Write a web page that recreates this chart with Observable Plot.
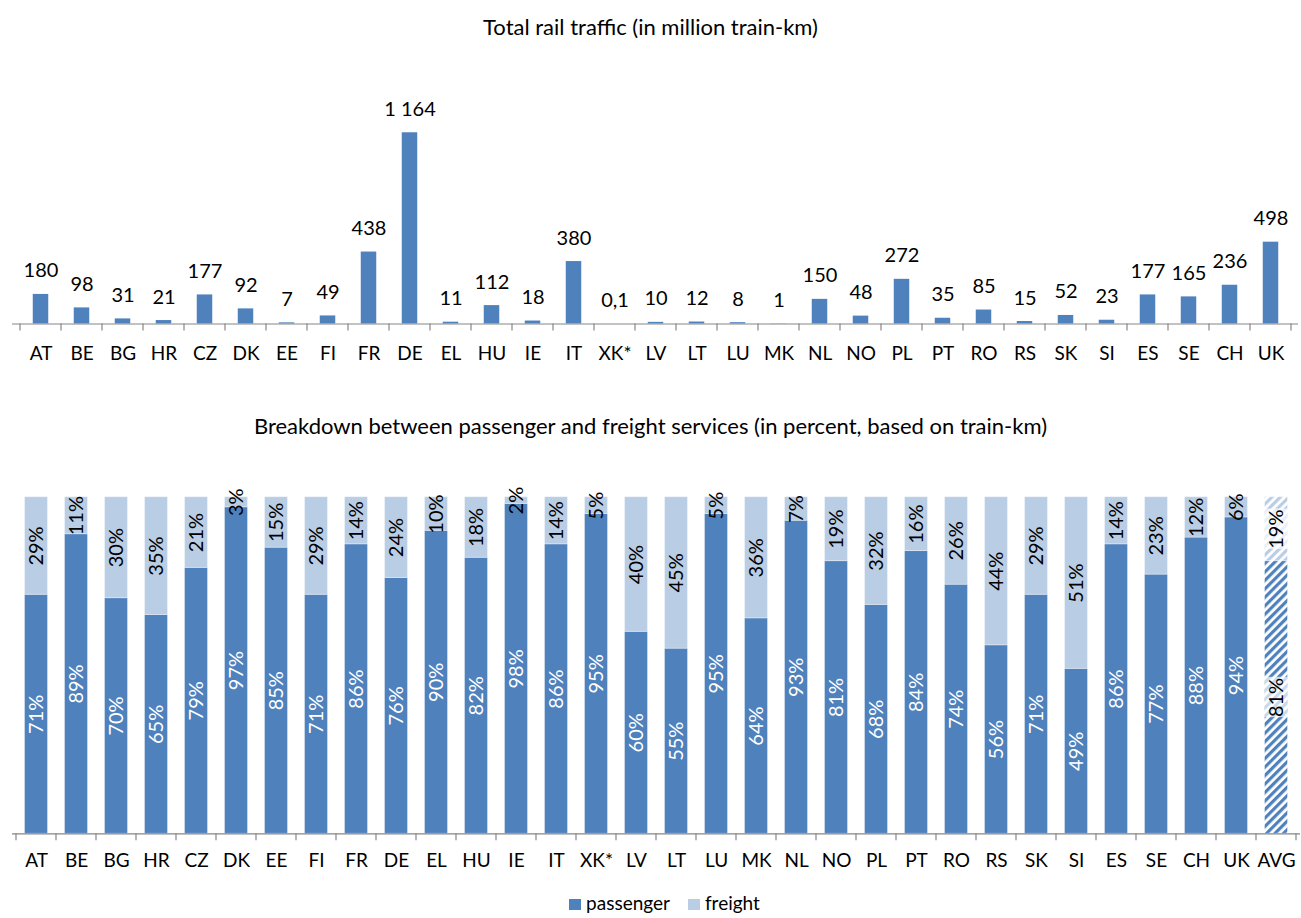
<!DOCTYPE html>
<html>
<head>
<meta charset="utf-8">
<script src="https://cdn.jsdelivr.net/npm/d3@7"></script>
<script src="https://cdn.jsdelivr.net/npm/@observablehq/plot@0.6"></script>
<style>
  body { margin: 0; background: #fff; font-family: Lato, "Open Sans", sans-serif; color: #000; }
  #wrap { position: relative; width: 1301px; height: 918px; overflow: hidden; }
  .title { position: absolute; left: 0; width: 1301px; text-align: center; font-size: 22px; line-height: 26px; }
  #t1 { top: 14px; }
  #t2 { top: 413px; }
  #c1 { position: absolute; top: 40px; left: 0; }
  #c2 { position: absolute; top: 460px; left: 0; }
  #legend { position: absolute; top: 891px; left: 14px; width: 1301px; text-align: center; font-size: 19px; line-height: 23px; white-space: nowrap; }
  #legend span.sw { display: inline-block; width: 12px; height: 11px; margin-right: 5px; vertical-align: 0px; }
  #legend span.it { margin: 0 9px; }
</style>
</head>
<body>
<div id="wrap">
  <div class="title" id="t1">Total rail traffic (in million train-km)</div>
  <div id="c1"></div>
  <div class="title" id="t2">Breakdown between passenger and freight services (in percent, based on train-km)</div>
  <div id="c2"></div>
  <div id="legend"></div>
</div>
<script>
// Countries shown on both charts
const countries = ["AT","BE","BG","HR","CZ","DK","EE","FI","FR","DE","EL","HU","IE","IT","XK*",
  "LV","LT","LU","MK","NL","NO","PL","PT","RO","RS","SK","SI","ES","SE","CH","UK"];

// Total rail traffic, million train-km
const trainKm = [180,98,31,21,177,92,7,49,438,1164,11,112,18,380,0.1,
  10,12,8,1,150,48,272,35,85,15,52,23,177,165,236,498];

// Share of passenger / freight services, percent of train-km (last entry = average)
const shareCategories = [...countries, "AVG"];
const passengerPct = [71,89,70,65,79,97,85,71,86,76,90,82,98,86,95,
  60,55,95,64,93,81,68,84,74,56,71,49,86,77,88,94,81];
const freightPct = [29,11,30,35,21,3,15,29,14,24,10,18,2,14,5,
  40,45,5,36,7,19,32,16,26,44,29,51,14,23,12,6,19];

const seriesNames = ["passenger", "freight"];
const seriesColors = ["#4f81bd", "#b9cde5"];

const axisGrey = "#868686";
const fontStack = "Lato, 'Open Sans', sans-serif";
const locale = d3.formatLocale({decimal: ",", thousands: "\u00a0", grouping: [3], currency: ["", ""]});
const fmtValue = locale.format(",");

// Tick marks on the band boundaries (category axis style)
function bandTicks(len) {
  return (index, scales, values, dims) => {
    const ns = "http://www.w3.org/2000/svg";
    const x = scales.x;
    const dom = x.domain();
    const bw = x.bandwidth ? x.bandwidth() : x(dom[1]) - x(dom[0]);
    const y0 = dims.height - dims.marginBottom;
    const g = document.createElementNS(ns, "g");
    const edges = dom.map(d => x(d)).concat([x(dom[dom.length - 1]) + bw]);
    for (const e of edges) {
      const l = document.createElementNS(ns, "line");
      l.setAttribute("x1", e); l.setAttribute("x2", e);
      l.setAttribute("y1", y0); l.setAttribute("y2", y0 + len);
      l.setAttribute("stroke", axisGrey);
      l.setAttribute("stroke-width", 1.2);
      g.appendChild(l);
    }
    return g;
  };
}

// ---- Total traffic chart ----
const totals = countries.map((c, i) => ({country: c, value: trainKm[i], label: fmtValue(trainKm[i])}));

const chart1 = Plot.plot({
  width: 1301,
  height: 330,
  marginTop: 53.5,
  marginBottom: 46.5,
  marginLeft: 12,
  marginRight: 3,
  style: {fontFamily: fontStack, fontSize: "19px", color: "#000", background: "#fff"},
  x: {domain: countries, padding: 0, tickSize: 0, tickPadding: 22, label: null},
  y: {domain: [0, 1400], axis: null},
  marks: [
    Plot.barY(totals, {x: "country", y: "value", fill: seriesColors[0], insetLeft: 12.75, insetRight: 12.75}),
    Plot.text(totals, {x: "country", y: "value", text: "label", dy: -17, lineAnchor: "bottom", fontSize: 20, fill: "#000"}),
    Plot.ruleY([0], {stroke: axisGrey, strokeWidth: 1.2}),
    bandTicks(7)
  ]
});
document.getElementById("c1").appendChild(chart1);

// ---- Passenger / freight breakdown chart ----
const shares = [];
shareCategories.forEach((c, i) => {
  shares.push({country: c, type: "passenger", pct: passengerPct[i]});
  shares.push({country: c, type: "freight", pct: freightPct[i]});
});
const isAvg = d => d.country === "AVG";
const barFill = d => isAvg(d)
  ? (d.type === "passenger" ? "url(#hatch-passenger)" : "url(#hatch-freight)")
  : seriesColors[seriesNames.indexOf(d.type)];
const labelFill = d => (d.type === "passenger" && !isAvg(d)) ? "#fff" : "#000";

// light boxes behind the labels of the hatched average bar
const avgShares = shares.filter(isAvg);
const avgLabelBoxes = avgShares.map((d, i) => {
  const base = d3.sum(avgShares.slice(0, i), e => e.pct);
  const mid = base + d.pct / 2;
  return {country: d.country, y1: mid - 6, y2: mid + 6};
});

const chart2 = Plot.plot({
  width: 1301,
  height: 420,
  marginTop: 36.7,
  marginBottom: 46.7,
  marginLeft: 12,
  marginRight: 1,
  style: {fontFamily: fontStack, fontSize: "19px", color: "#000", background: "#fff"},
  x: {domain: shareCategories, padding: 0, tickSize: 0, tickPadding: 20, label: null},
  y: {domain: [0, 100], axis: null},
  marks: [
    Plot.barY(shares, Plot.stackY({x: "country", y: "pct", z: "type", fill: barFill,
      stroke: "#ffffff", strokeOpacity: 0.35, strokeWidth: 1, insetLeft: 8.5, insetRight: 8.5})),
    Plot.rect(avgLabelBoxes, {x: "country", y1: "y1", y2: "y2", fill: "#fff", fillOpacity: 0.7,
      insetLeft: 8.5, insetRight: 8.5}),
    Plot.text(shares, Plot.stackY({x: "country", y: "pct", z: "type", text: d => d.pct + "%",
      rotate: -90, fill: labelFill, fontSize: 20})),
    Plot.ruleY([0], {stroke: axisGrey, strokeWidth: 1.2}),
    bandTicks(7)
  ]
});

// hatch patterns for the average bar
const ns = "http://www.w3.org/2000/svg";
const defs = document.createElementNS(ns, "defs");
[["hatch-passenger", seriesColors[0]], ["hatch-freight", seriesColors[1]]].forEach(([id, col]) => {
  const p = document.createElementNS(ns, "pattern");
  p.setAttribute("id", id);
  p.setAttribute("patternUnits", "userSpaceOnUse");
  p.setAttribute("width", 6);
  p.setAttribute("height", 6);
  p.setAttribute("patternTransform", "rotate(45)");
  const bg = document.createElementNS(ns, "rect");
  bg.setAttribute("width", 6); bg.setAttribute("height", 6); bg.setAttribute("fill", "#fff");
  const st = document.createElementNS(ns, "rect");
  st.setAttribute("width", 3.2); st.setAttribute("height", 6); st.setAttribute("fill", col);
  p.appendChild(bg); p.appendChild(st);
  defs.appendChild(p);
});
chart2.insertBefore(defs, chart2.firstChild);
document.getElementById("c2").appendChild(chart2);

// ---- Legend ----
const legend = document.getElementById("legend");
seriesNames.forEach((name, i) => {
  const item = document.createElement("span");
  item.className = "it";
  const sw = document.createElement("span");
  sw.className = "sw";
  sw.style.background = seriesColors[i];
  item.appendChild(sw);
  item.appendChild(document.createTextNode(name));
  legend.appendChild(item);
});
</script>
</body>
</html>
